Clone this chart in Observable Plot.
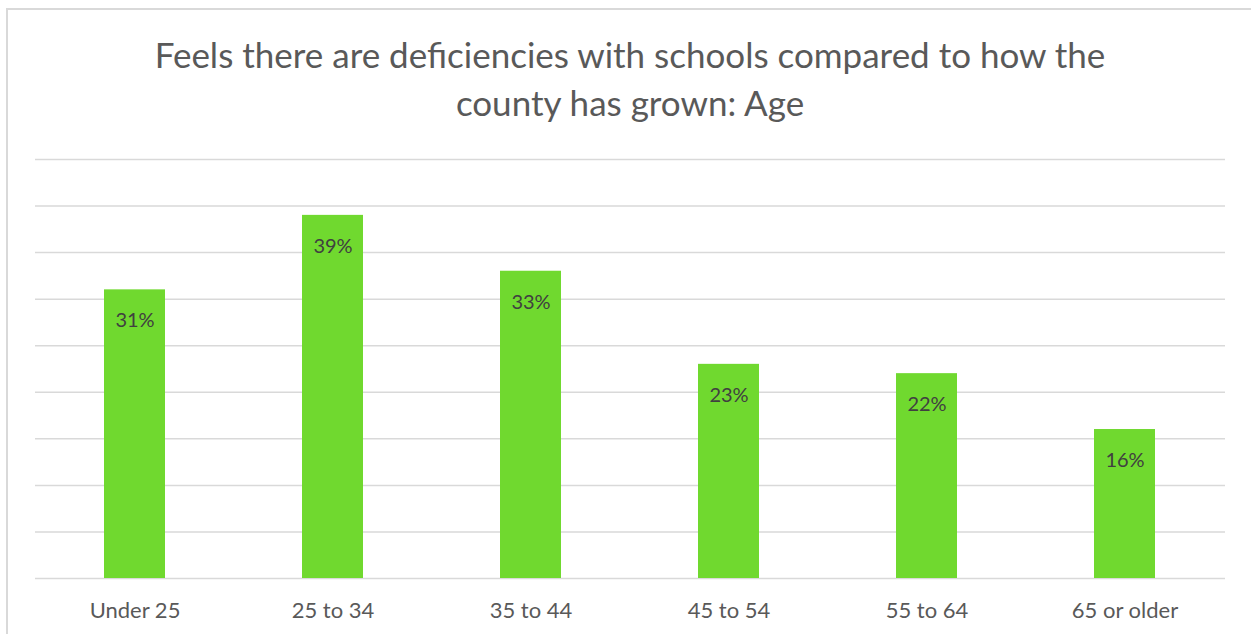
<!DOCTYPE html>
<html>
<head>
<meta charset="utf-8">
<script src="https://cdn.jsdelivr.net/npm/d3@7"></script>
<script src="https://cdn.jsdelivr.net/npm/@observablehq/plot@0.6"></script>
<style>
  html, body { margin: 0; padding: 0; background: #fff; overflow: hidden; }
  body { width: 1251px; height: 634px; position: relative; font-family: Lato, "Open Sans", sans-serif; }
  #frame { position: absolute; left: 6px; top: 8px; width: 1270px; height: 660px; border: 2px solid #d9d9d9; box-sizing: border-box; }
  #title { position: absolute; left: 0; top: 30px; width: 1260px; text-align: center; font-size: 35px; line-height: 48px; color: #595959; }
  #chart { position: absolute; left: 0; top: 140px; }
</style>
</head>
<body>
<div id="frame"></div>
<div id="title">Feels there are deficiencies with schools compared to how the<br>county has grown: Age</div>
<div id="chart"></div>
<script>
const categories = ["Under 25", "25 to 34", "35 to 44", "45 to 54", "55 to 64", "65 or older"];
const values = [31, 39, 33, 23, 22, 16];
const gridTicks = [0, 5, 10, 15, 20, 25, 30, 35, 40, 45];

const data = categories.map((c, i) => ({ category: c, value: values[i] }));

const chart = Plot.plot({
  width: 1251,
  height: 494,
  marginTop: 19,
  marginBottom: 56,
  marginLeft: 35,
  marginRight: 26,
  style: { fontFamily: "Lato, 'Open Sans', sans-serif", fontSize: "22px", background: "transparent" },
  x: { domain: categories, paddingInner: 0.69, paddingOuter: 0.345, align: 0.5, label: null },
  y: { domain: [0, 45], axis: null },
  marks: [
    Plot.ruleY(gridTicks, { stroke: "#d9d9d9", strokeWidth: 1.5 }),
    Plot.barY(data, { x: "category", y: "value", fill: "#70d92f" }),
    Plot.text(data, { x: "category", y: "value", text: d => d.value + "%", dy: 31, fill: "#404040", fontSize: 20 }),
    Plot.axisX({ tickSize: 0, tickPadding: 24, fontSize: 22, color: "#595959", label: null })
  ]
});
chart.querySelectorAll("[aria-label='x-axis tick label'] text").forEach(t => t.setAttribute("fill", "#595959"));
document.getElementById("chart").appendChild(chart);
</script>
</body>
</html>
